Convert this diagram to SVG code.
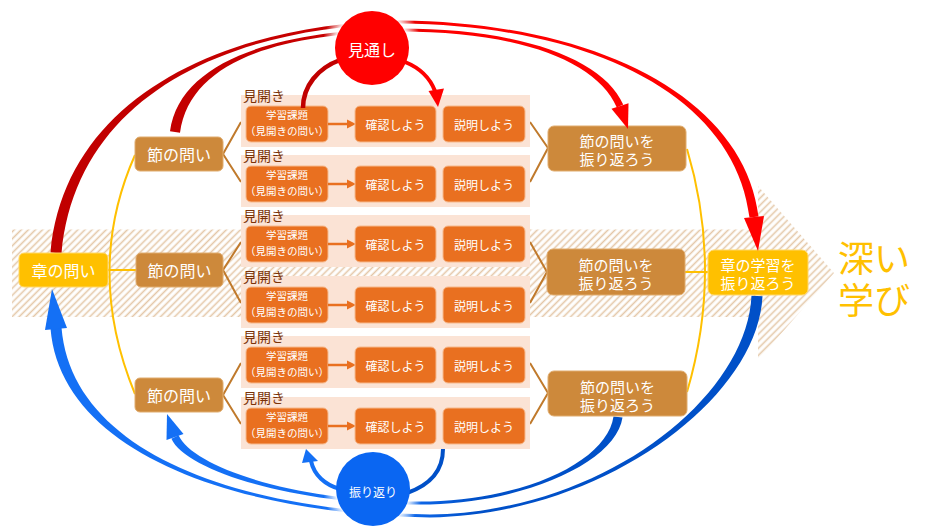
<svg xmlns="http://www.w3.org/2000/svg" width="940" height="529" viewBox="0 0 940 529">
<style>
text{font-family:"Noto Sans CJK JP","Noto Sans",sans-serif;}
.w{fill:#fff;text-anchor:middle;dominant-baseline:central}
.tile{fill:#FBE3D5}
.ob{fill:#E97020;stroke:#F7B98C;stroke-width:1}
.sec{fill:#CD893B;stroke:#E0AC6E;stroke-width:1}
.ch{fill:#FFC000;stroke:#FFD86A;stroke-width:1}
.lbl{fill:#7A3208;font-size:14px;dominant-baseline:central}
.yl{stroke:#FFC000;stroke-width:2;fill:none}
.br{stroke:#C07A2C;stroke-width:2;fill:none}
.oa{stroke:#E97020;stroke-width:2.5;fill:none}
.oh{fill:#E97020}
.f10{font-size:10.5px}
.f12{font-size:12px}
.f15{font-size:15px}
.f16{font-size:16px}
</style>
<defs>
<pattern id="hatch" width="5" height="5" patternUnits="userSpaceOnUse" patternTransform="rotate(45)">
<line x1="2.5" y1="0" x2="2.5" y2="5" stroke="#E4C7A8" stroke-width="1.6"/>
</pattern>
<linearGradient id="redg" gradientUnits="userSpaceOnUse" x1="50" y1="0" x2="760" y2="0">
<stop offset="0" stop-color="#C00000"/><stop offset="0.44" stop-color="#C80000"/><stop offset="0.56" stop-color="#FF0000"/><stop offset="1" stop-color="#FF0000"/>
</linearGradient>
<linearGradient id="blueg" gradientUnits="userSpaceOnUse" x1="50" y1="0" x2="760" y2="0">
<stop offset="0" stop-color="#1470F5"/><stop offset="0.48" stop-color="#1470F5"/><stop offset="0.6" stop-color="#0050C8"/><stop offset="1" stop-color="#0050C8"/>
</linearGradient>
<radialGradient id="halo">
<stop offset="0.72" stop-color="#fff" stop-opacity="1"/><stop offset="1" stop-color="#fff" stop-opacity="0"/>
</radialGradient>
</defs>

<g id="band">
<path d="M12,229.5 L758,229.5 L758,186 L834,273 L758,360 L758,317 L12,317 Z" fill="url(#hatch)"/>
</g>

<g id="cycle-arcs">
<path d="M50.5,252.5 C64.5,99.5 220,24.5 400,20.5 C600,22.5 744.5,99.5 758.5,216.5 L749.5,217.5 C735.5,100.5 600,25.5 400,23.5 C220,27.5 75.5,100.5 61.5,253.5 Z" fill="url(#redg)"/>
<path d="M170,131.3 C180,59.3 280,30.5 400,28.5 C520,28.5 603.2,58.6 623.2,104.6 L616.8,107.4 C596.8,61.4 520,31.5 400,31.5 C280,33.5 190,60.7 180,132.7 Z" fill="url(#redg)"/>
<path d="M50.5,328.5 C60.5,450.5 230,513.5 430,517.5 C600,515.5 757.5,400.3 762.5,296.3 L751.5,295.7 C746.5,399.7 600,512.5 430,514.5 C230,510.5 71.5,449.5 61.5,327.5 Z" fill="url(#blueg)"/>
<path d="M171.4,438.7 C186.4,471.7 300,506.5 430,504.5 C530,501.5 616.5,460.6 622.5,417.6 L613.5,416.4 C607.5,459.4 530,498.5 430,501.5 C300,503.5 193.6,468.3 178.6,435.3 Z" fill="url(#blueg)"/>
<circle cx="372" cy="48" r="50" fill="url(#halo)"/>
<circle cx="373" cy="489" r="50" fill="url(#halo)"/>
</g>

<g id="connectors">
<path class="yl" d="M135,155 Q84,270 135,394"/>
<line class="yl" x1="108" y1="270" x2="136" y2="270"/>
<path class="yl" d="M687,149 Q723,270 687,392"/>
<line class="yl" x1="685" y1="272" x2="708" y2="272"/>
<polyline class="br" points="241,122 223,154 241,182"/>
<polyline class="br" points="241,242 223,270 241,303"/>
<polyline class="br" points="241,363 223,395 241,424"/>
<polyline class="br" points="530,122 548,148 530,182"/>
<polyline class="br" points="530,242 547,272 530,303"/>
<polyline class="br" points="530,363 548,393 530,424"/>
</g>

<g id="spread1">
<rect class="tile" x="241" y="95" width="289" height="52"/>
<text class="lbl" x="243" y="95">見開き</text>
<rect class="ob" x="246" y="106" width="82" height="36" rx="5"/>
<text class="w f10"><tspan x="287" y="114">学習課題</tspan><tspan x="287" y="130">（見開きの問い）</tspan></text>
<line class="oa" x1="328" y1="124" x2="348" y2="124"/><polygon class="oh" points="347,119.5 356,124 347,128.5"/>
<rect class="ob" x="355" y="106" width="81" height="36" rx="5"/><text class="w f12" x="395.5" y="124">確認しよう</text>
<rect class="ob" x="443" y="106" width="82" height="36" rx="5"/><text class="w f12" x="484" y="124">説明しよう</text>
</g>
<g id="spread2">
<rect class="tile" x="241" y="155" width="289" height="52"/>
<text class="lbl" x="243" y="155">見開き</text>
<rect class="ob" x="246" y="166" width="82" height="36" rx="5"/>
<text class="w f10"><tspan x="287" y="174">学習課題</tspan><tspan x="287" y="190">（見開きの問い）</tspan></text>
<line class="oa" x1="328" y1="184" x2="348" y2="184"/><polygon class="oh" points="347,179.5 356,184 347,188.5"/>
<rect class="ob" x="355" y="166" width="81" height="36" rx="5"/><text class="w f12" x="395.5" y="184">確認しよう</text>
<rect class="ob" x="443" y="166" width="82" height="36" rx="5"/><text class="w f12" x="484" y="184">説明しよう</text>
</g>
<g id="spread3">
<rect class="tile" x="241" y="215" width="289" height="52"/>
<text class="lbl" x="243" y="215">見開き</text>
<rect class="ob" x="246" y="226" width="82" height="36" rx="5"/>
<text class="w f10"><tspan x="287" y="234">学習課題</tspan><tspan x="287" y="250">（見開きの問い）</tspan></text>
<line class="oa" x1="328" y1="244" x2="348" y2="244"/><polygon class="oh" points="347,239.5 356,244 347,248.5"/>
<rect class="ob" x="355" y="226" width="81" height="36" rx="5"/><text class="w f12" x="395.5" y="244">確認しよう</text>
<rect class="ob" x="443" y="226" width="82" height="36" rx="5"/><text class="w f12" x="484" y="244">説明しよう</text>
</g>
<g id="spread4">
<rect class="tile" x="241" y="276" width="289" height="52"/>
<text class="lbl" x="243" y="276">見開き</text>
<rect class="ob" x="246" y="287" width="82" height="36" rx="5"/>
<text class="w f10"><tspan x="287" y="295">学習課題</tspan><tspan x="287" y="311">（見開きの問い）</tspan></text>
<line class="oa" x1="328" y1="305" x2="348" y2="305"/><polygon class="oh" points="347,300.5 356,305 347,309.5"/>
<rect class="ob" x="355" y="287" width="81" height="36" rx="5"/><text class="w f12" x="395.5" y="305">確認しよう</text>
<rect class="ob" x="443" y="287" width="82" height="36" rx="5"/><text class="w f12" x="484" y="305">説明しよう</text>
</g>
<g id="spread5">
<rect class="tile" x="241" y="336" width="289" height="52"/>
<text class="lbl" x="243" y="336">見開き</text>
<rect class="ob" x="246" y="347" width="82" height="36" rx="5"/>
<text class="w f10"><tspan x="287" y="355">学習課題</tspan><tspan x="287" y="371">（見開きの問い）</tspan></text>
<line class="oa" x1="328" y1="365" x2="348" y2="365"/><polygon class="oh" points="347,360.5 356,365 347,369.5"/>
<rect class="ob" x="355" y="347" width="81" height="36" rx="5"/><text class="w f12" x="395.5" y="365">確認しよう</text>
<rect class="ob" x="443" y="347" width="82" height="36" rx="5"/><text class="w f12" x="484" y="365">説明しよう</text>
</g>
<g id="spread6">
<rect class="tile" x="241" y="397" width="289" height="52"/>
<text class="lbl" x="243" y="397">見開き</text>
<rect class="ob" x="246" y="408" width="82" height="36" rx="5"/>
<text class="w f10"><tspan x="287" y="416">学習課題</tspan><tspan x="287" y="432">（見開きの問い）</tspan></text>
<line class="oa" x1="328" y1="426" x2="348" y2="426"/><polygon class="oh" points="347,421.5 356,426 347,430.5"/>
<rect class="ob" x="355" y="408" width="81" height="36" rx="5"/><text class="w f12" x="395.5" y="426">確認しよう</text>
<rect class="ob" x="443" y="408" width="82" height="36" rx="5"/><text class="w f12" x="484" y="426">説明しよう</text>
</g>

<g id="chapter-question"><rect class="ch" x="19" y="253" width="89" height="34" rx="5"/><text class="w f16" x="63.5" y="270">章の問い</text></g>
<g id="section-question1"><rect class="sec" x="135" y="137" width="88" height="34" rx="5"/><text class="w f16" x="179" y="154">節の問い</text></g>
<g id="section-question2"><rect class="sec" x="136" y="253" width="87" height="34" rx="5"/><text class="w f16" x="179.5" y="270">節の問い</text></g>
<g id="section-question3"><rect class="sec" x="135" y="378" width="88" height="34" rx="5"/><text class="w f16" x="179" y="395">節の問い</text></g>
<g id="section-review1"><rect class="sec" x="548" y="126" width="138" height="45" rx="6"/><text class="w f15"><tspan x="617" y="140">節の問いを</tspan><tspan x="617" y="158">振り返ろう</tspan></text></g>
<g id="section-review2"><rect class="sec" x="547" y="249" width="138" height="46" rx="6"/><text class="w f15"><tspan x="616" y="264">節の問いを</tspan><tspan x="616" y="282">振り返ろう</tspan></text></g>
<g id="section-review3"><rect class="sec" x="548" y="371" width="139" height="45" rx="6"/><text class="w f15"><tspan x="617.5" y="385.5">節の問いを</tspan><tspan x="617.5" y="403.5">振り返ろう</tspan></text></g>
<g id="chapter-review"><rect class="ch" x="708" y="250" width="100" height="45" rx="6"/><text class="w f15"><tspan x="758" y="264">章の学習を</tspan><tspan x="758" y="282">振り返ろう</tspan></text></g>
<g id="deep-learning"><text fill="#FFC000" font-size="36" dominant-baseline="central"><tspan x="838" y="256">深い</tspan><tspan x="838" y="298">学び</tspan></text></g>

<g id="cycle-arrows">
<polygon points="744,218 764,216 758,251" fill="#FF0000"/>
<polygon points="611.5,108.8 628.5,103.2 628,129" fill="#FF0000"/>
<polygon points="45,330 67,328 52,289" fill="#1470F5"/>
<polygon points="166.5,440 183.5,434 167,414" fill="#1470F5"/>
<path d="M303,108 C303,86 318,68 340,60" stroke="#C00000" stroke-width="4.5" fill="none"/>
<path d="M405,62 C420,68 430,78 435,91" stroke="#FF0000" stroke-width="4" fill="none"/>
<polygon points="428.5,91 444,88.5 438,107" fill="#FF0000"/>
<path d="M311,461 C314,475 325,485 340,489" stroke="#1470F5" stroke-width="4" fill="none"/>
<polygon points="302,463 318,461 306,449" fill="#1470F5"/>
<path d="M443,449 C443,470 430,485 407,493" stroke="#0050C8" stroke-width="4" fill="none"/>
</g>

<g id="foresight"><circle cx="372" cy="48" r="37" fill="#FF0000"/><text class="w" x="372" y="49" font-size="16">見通し</text></g>
<g id="reflection"><circle cx="373" cy="489" r="37" fill="#0A66F2"/><text class="w" x="373" y="491" font-size="12">振り返り</text></g>
</svg>
